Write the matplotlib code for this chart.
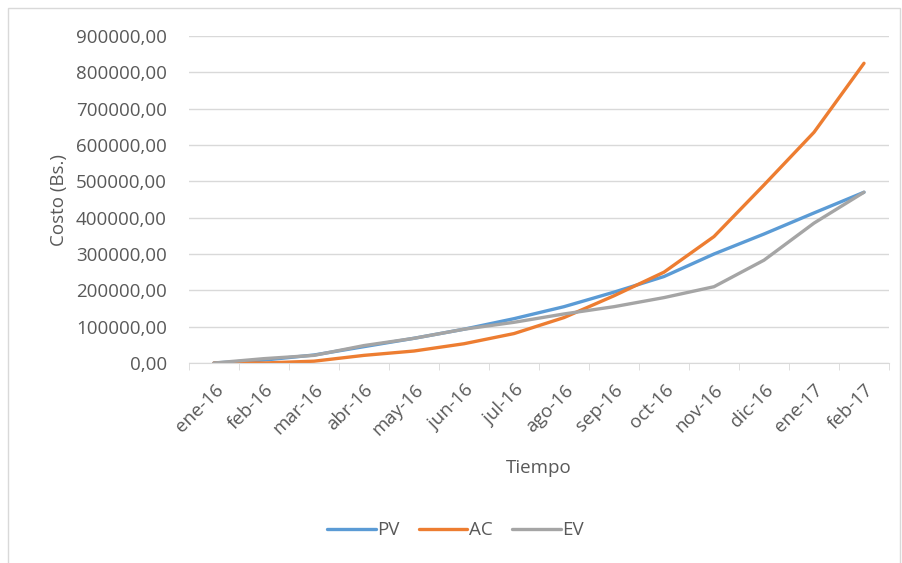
import matplotlib
matplotlib.use("Agg")
import matplotlib.pyplot as plt
from matplotlib.patches import Rectangle
from matplotlib.ticker import FuncFormatter, FixedLocator

plt.rcParams['font.family'] = ['Open Sans', 'DejaVu Sans']

meses = ['ene-16', 'feb-16', 'mar-16', 'abr-16', 'may-16', 'jun-16', 'jul-16',
         'ago-16', 'sep-16', 'oct-16', 'nov-16', 'dic-16', 'ene-17', 'feb-17']
pv = [0, 8000, 22000, 45000, 68000, 93000, 122000, 155000, 195000, 238000,
      300000, 355000, 413000, 470000]
ac = [0, 0, 5000, 21000, 33000, 53000, 81000, 125000, 185000, 250000,
      348000, 490000, 635000, 825000]
ev = [0, 12000, 21000, 48000, 68000, 93000, 112000, 135000, 155000, 180000,
      210000, 283000, 385000, 470000]

txt = '#595959'
fig = plt.figure(figsize=(9.02, 5.63), dpi=100)
fig.patches.append(Rectangle((8 / 902, -0.01), 892 / 902, 1 - 8 / 563 + 0.01,
                             transform=fig.transFigure, fill=False,
                             edgecolor='#d9d9d9', linewidth=1))

ax = fig.add_axes([189 / 902, 1 - 363 / 563, 700 / 902, 327 / 563])
x = range(len(meses))
ax.plot(x, pv, color='#5B9BD5', lw=2.4, label='PV', solid_capstyle='round')
ax.plot(x, ac, color='#ED7D31', lw=2.4, label='AC', solid_capstyle='round')
ax.plot(x, ev, color='#A5A5A5', lw=2.4, label='EV', solid_capstyle='round')

ax.set_xlim(-0.5, len(meses) - 0.5)
ax.set_ylim(0, 900000)
ax.set_yticks(range(0, 900001, 100000))
ax.yaxis.set_major_formatter(FuncFormatter(lambda v, p: f"{v:.2f}".replace('.', ',')))
ax.set_xticks(list(x))
ax.set_xticklabels(meses, rotation=45, ha='right', rotation_mode='anchor')
ax.xaxis.set_minor_locator(FixedLocator([i - 0.5 for i in range(len(meses) + 1)]))
ax.tick_params(axis='x', which='major', length=0, pad=13, labelsize=13.5, labelcolor=txt)
ax.tick_params(axis='x', which='minor', length=5, color='#d9d9d9')
ax.tick_params(axis='y', length=0, pad=16, labelsize=13.5, labelcolor=txt)

ax.grid(axis='y', color='#d9d9d9', lw=1)
ax.set_axisbelow(True)
for s in ['top', 'right', 'left']:
    ax.spines[s].set_visible(False)
ax.spines['bottom'].set_color('#d9d9d9')

ax.set_ylabel('Costo (Bs.)', fontsize=13.5, color=txt, labelpad=6)
ax.set_xlabel('Tiempo', fontsize=13.5, color=txt, labelpad=14)

fig.legend(loc='center', bbox_to_anchor=(0.505, 0.058), ncol=3, frameon=False,
           fontsize=13.5, labelcolor=txt, handlelength=2.6, handletextpad=0.1,
           columnspacing=1.0)

fig.savefig('out.png', dpi=100)
